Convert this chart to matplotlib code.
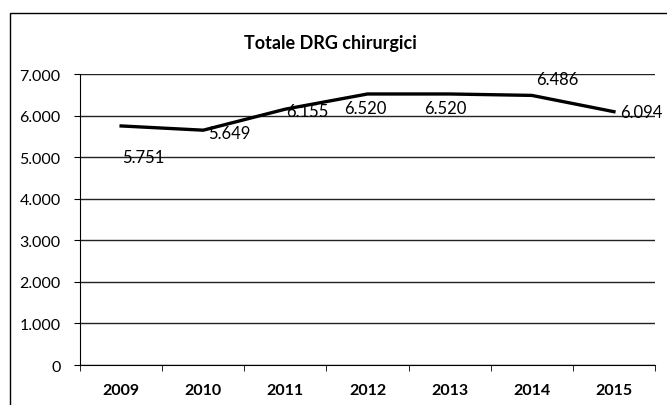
import matplotlib
matplotlib.use("Agg")
import matplotlib.pyplot as plt
from matplotlib.patches import Rectangle
from matplotlib.ticker import FuncFormatter, FixedLocator

years = ["2009", "2010", "2011", "2012", "2013", "2014", "2015"]
values = [5751, 5649, 6155, 6520, 6520, 6486, 6094]
labels = ["5.751", "5.649", "6.155", "6.520", "6.520", "6.486", "6.094"]
# label offsets in pixels (dx, dy) relative to each point
offsets = [(22, -31), (26, -3), (22, -2), (-2, -14), (-4, -14), (26, 16), (27, 0)]

plt.rcParams['font.family'] = ['Lato', 'DejaVu Sans']

fig = plt.figure(figsize=(6.67, 4.06), dpi=100)
ax = fig.add_axes([0.12, 0.0985, 0.862, 0.7167])

x = list(range(len(years)))
ax.plot(x, values, color="black", lw=2.4, solid_joinstyle="round", zorder=3)

for xi, v, lab, (dx, dy) in zip(x, values, labels, offsets):
    ax.annotate(lab, (xi, v), xytext=(dx * 0.72, dy * 0.72), textcoords="offset points",
                ha="center", va="center", fontsize=12, color="black", zorder=4)

ax.set_xlim(-0.5, 6.5)
ax.set_ylim(0, 7000)
ax.set_yticks(range(0, 7001, 1000))
ax.yaxis.set_major_formatter(FuncFormatter(lambda v, p: "0" if v == 0 else f"{int(v):,}".replace(",", ".")))
ax.set_xticks(x)
ax.set_xticklabels(years, fontweight="bold", fontsize=11.5)
ax.xaxis.set_minor_locator(FixedLocator([i - 0.5 for i in range(len(years) + 1)]))
ax.tick_params(axis="x", which="major", length=0, pad=13)
ax.tick_params(axis="x", which="minor", length=4, direction="out", color="black")
ax.tick_params(axis="y", length=4, direction="out", labelsize=11.5, pad=10)

ax.grid(axis="y", color="#222222", lw=1.0)
ax.set_axisbelow(True)
for s in ["top", "right"]:
    ax.spines[s].set_visible(False)
ax.spines["left"].set_color("black")
ax.spines["bottom"].set_color("black")

fig.text(0.495, 0.892, "Totale DRG chirurgici", ha="center", va="center",
         fontsize=13, fontweight="bold")

fig.patches.append(Rectangle((0.015, -0.01), 1.0, 0.975, transform=fig.transFigure,
                             fill=False, edgecolor="black", lw=1.0))

fig.savefig("out.png", dpi=100)
